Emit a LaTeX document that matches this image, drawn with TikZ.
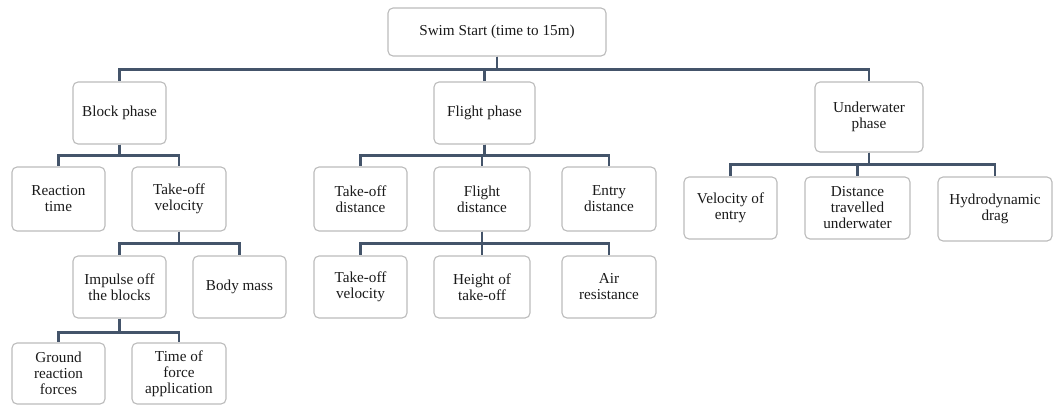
\documentclass[tikz,border=0pt]{standalone}
\usepackage{fontspec}
\setmainfont{Liberation Serif}
\definecolor{conncol}{HTML}{44546A}
\definecolor{boxcol}{HTML}{BBBBBB}
\definecolor{txtcol}{HTML}{1A1A1A}
\begin{document}
\begin{tikzpicture}[x=1pt,y=-1pt,
  box/.style={draw=boxcol, line width=1.1pt, rounded corners=5pt, align=center,
    inner sep=0pt, text=txtcol, font=\fontsize{15.2}{16}\selectfont},
  conn/.style={draw=conncol, line width=2.4pt}]
\useasboundingbox (0,0) rectangle (1058,405);
% nodes
\node[box, minimum width=218pt, minimum height=48pt] (root) at (497,32) {Swim Start (time to 15m)};
\node[box, minimum width=93pt, minimum height=62pt] (block) at (119.5,113) {Block phase};
\node[box, minimum width=101pt, minimum height=62pt] (flight) at (484.5,113) {Flight phase};
\node[box, minimum width=108pt, minimum height=70pt] (under) at (869,117) {Underwater\\phase};
\node[box, minimum width=93pt, minimum height=64pt] (react) at (58.5,199) {Reaction\\time};
\node[box, minimum width=94pt, minimum height=64pt] (tov) at (179,199) {Take-off\\velocity};
\node[box, minimum width=93pt, minimum height=64pt] (tod) at (360.5,199) {Take-off\\distance};
\node[box, minimum width=96pt, minimum height=64pt] (fdist) at (482,199) {Flight\\distance};
\node[box, minimum width=94pt, minimum height=64pt] (entry) at (609,199) {Entry\\distance};
\node[box, minimum width=93pt, minimum height=62pt] (voe) at (730.5,208) {Velocity of\\entry};
\node[box, minimum width=105pt, minimum height=62pt] (dtu) at (857.5,208) {Distance\\travelled\\underwater};
\node[box, minimum width=114pt, minimum height=64pt] (hyd) at (995,209) {Hydrodynamic\\drag};
\node[box, minimum width=93pt, minimum height=62pt] (imp) at (119.5,287) {Impulse off\\the blocks};
\node[box, minimum width=93pt, minimum height=62pt] (body) at (239.5,287) {Body mass};
\node[box, minimum width=93pt, minimum height=62pt] (tovb) at (360.5,287) {Take-off\\velocity};
\node[box, minimum width=96pt, minimum height=62pt] (height) at (482,287) {Height of\\take-off};
\node[box, minimum width=94pt, minimum height=62pt] (air) at (609,287) {Air\\resistance};
\node[box, minimum width=93pt, minimum height=61pt] (ground) at (58.5,373.5) {Ground\\reaction\\forces};
\node[box, minimum width=94pt, minimum height=61pt] (time) at (179,373.5) {Time of\\force\\application};
% connectors
\foreach \c in {block,flight,under}
  \draw[conn] (root.south) -- ++(0,13) -| (\c.north);
\foreach \c in {react,tov}
  \draw[conn] (block.south) -- ++(0,11) -| (\c.north);
\foreach \c in {tod,fdist,entry}
  \draw[conn] (flight.south) -- ++(0,11) -| (\c.north);
\foreach \c in {voe,dtu,hyd}
  \draw[conn] (under.south) -- ++(0,12) -| (\c.north);
\foreach \c in {imp,body}
  \draw[conn] (tov.south) -- ++(0,12) -| (\c.north);
\foreach \c in {tovb,height,air}
  \draw[conn] (fdist.south) -- ++(0,12) -| (\c.north);
\foreach \c in {ground,time}
  \draw[conn] (imp.south) -- ++(0,14) -| (\c.north);
\end{tikzpicture}
\end{document}
